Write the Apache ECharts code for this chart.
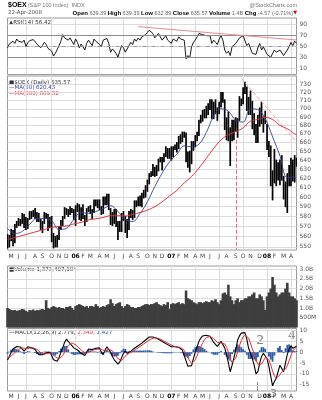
<!DOCTYPE html>
<html>
<head>
<meta charset="utf-8">
<script src="https://cdn.jsdelivr.net/npm/echarts@6/dist/echarts.min.js"></script>
<style>
html,body{margin:0;padding:0;background:#fff}
#chart{width:322px;height:400px}
</style>
</head>
<body>
<div id="chart"></div>
<script>
// Weekly bars for $OEX, week starting 2005-04-18 through week of 2008-04-21
const FIRST_WEEK = [2005, 3, 18];
const WEEK_COUNT = 158;

// Weekly price range (low / high)
const priceLow = [
  549,550,556,551,554,569,571,571,573,569,567,568,577,578,580,578,575,575,567,564,573,578,566,569,555,549,550,550,557,567,571,578,582,580,582,584,577,
  571,585,577,576,578,571,575,585,583,578,584,591,589,587,582,583,592,592,587,572,571,573,570,557,565,565,576,564,559,567,579,577,579,590,591,591,590,599,600,606,614,622,623,622,623,628,638,629,638,644,642,642,
  640,644,652,649,653,659,661,666,638,632,627,636,651,655,662,668,683,685,689,689,693,699,688,688,694,686,694,702,708,675,663,662,634,662,663,673,666,686,704,706,719,698,693,693,676,669,660,660,679,682,672,682,
  652,644,612,597,615,612,618,613,618,598,590,584,612,612,617,616,633
];
const priceHigh = [
  562,561,567,566,572,575,578,577,583,582,579,578,585,585,586,588,584,583,577,575,584,583,582,579,580,563,560,561,570,576,580,589,588,587,590,588,587,
  591,593,592,589,592,581,588,590,591,587,597,597,597,597,590,600,600,603,603,588,584,587,587,575,575,583,585,580,577,585,587,586,596,596,600,601,604,607,612,618,625,627,635,632,634,641,643,643,647,655,653,653,
  655,655,657,660,667,669,672,672,671,649,650,661,661,668,672,686,692,698,699,703,706,711,711,708,711,701,708,720,720,711,689,696,677,686,686,689,688,715,712,726,733,727,714,722,709,694,681,692,701,708,690,697,
  681,661,656,628,652,640,637,640,645,622,616,625,634,642,640,645,642
];

// Moving averages, sampled every fourth week
const maWeeks = [0,4,8,12,16,20,24,28,32,36,40,44,48,52,56,60,64,68,72,76,80,84,88,92,96,100,104,108,112,116,120,124,128,132,136,140,144,148,152,156,157];
const ma50 = [568,563,565,572,578,578,575.5,567,568,577,584,583,585,588,591,585,577,575,583,595,611,625.5,638,646.5,656,655,658,671.5,691,700,697,686,684,700,699,688,666.5,645,621,621,620.43];
const ma200 = [557,559,561,563,565,567,569,570,570.5,572.5,574,576.5,577.6,579,580.7,580.7,580.5,582,584,586.5,590,595,601,607,615,622,631,642,653,663,669,672.6,677,685,687,689.5,687,680,676,670,669.32];

// RSI(14)
const rsi = [
  48,55,52,60,56, 64,60,63,58,62, 50,57,61,58,63, 59,55,58,48,52, 58,54,47,50,42, 33,38,35,52,60,
  72,66,69,62,66, 60,54,64,58,48, 55,50,44,56,62, 57,52,64,60,58, 54,50,62,60,65, 56,40,46,44,38,
  31,42,52,48,40, 38,52,58,54,64, 60,66,62,68,65, 72,76,80,78,74, 66,70,74,68,62, 66,70,62,60,56,
  64,66,60,68,64, 66,62,28,34,30, 50,58,62,68,74, 76,72,74,70,73, 70,56,62,58,54, 64,70,62,44,38,
  42,34,50,52,56, 54,66,68,70,72, 52,56,58,38,40, 36,48,56,44,50, 52,36,34,31,29, 44,40,42,44,42,
  34,36,44,50,58, 52,60,56.42
];

// Volume, billions of shares (daily average per week)
const volume = [
  1.0,0.95,0.9,0.88,0.9,0.85,0.88,0.9,0.95,0.92, 0.85,0.8,0.9,0.88,0.92,0.85,0.9,0.88,0.92,0.95,
  0.9,1.4,1.0,0.95,1.05,1.1,1.05,1.0,1.05,1.0, 1.0,0.95,1.05,1.05,1.1,1.0,0.9,
  1.1,1.15,1.2,1.15,1.1,1.05,1.1,1.0,1.1,1.1, 1.05,1.2,1.1,1.0,1.05,1.1,1.05,1.15,1.2,1.45,
  1.25,1.1,1.2,1.25,1.3,1.1,1.0,1.1,1.2,1.15, 1.05,1.05,1.0,1.0,1.05,1.05,1.1,1.15,1.2,1.2,
  1.15,1.2,1.2,1.25,1.3,1.2,1.15,1.1,1.2,1.15, 1.3,0.95,
  1.2,1.25,1.2,1.25,1.3,1.2,1.25,1.2,1.9,1.5, 1.45,1.4,1.3,1.25,1.2,1.3,1.3,1.25,1.3,1.35,
  1.3,1.3,1.4,1.35,1.45,1.3,1.2,1.4,1.75,1.8, 1.7,2.2,1.6,1.4,1.2,1.4,1.5,1.3,1.4,1.4,
  1.5,1.5,1.6,1.6,1.7,1.8,1.5,1.5,1.7,1.6, 1.4,0.9,
  1.6,1.8,2.0,2.6,2.2,1.8,1.6,1.7,1.8,1.8, 2.0,2.3,1.8,1.6,1.6,1.5,1.4
];

// MACD(12,26,9): line, signal, histogram
const macd = [
  -3.6,-2,0,1.5,2.2,2.6,2.8,2.4,1.5,0.5, 1,2.5,2.4,2.0,1.8,1.2,0,-1.2,-2,-1.2,
  -0.5,-0.3,0,0,-1.5,-3.5,-4.4,-4.2,-2.5,0, 2,4.5,6,5,4,3,2,1.5,1,0.3,
  -0.5,-1.2,-1.5,0,1.5,1.5,1.2,1.5,1.8,1, 2,0,-1,1,2.5,2,0,-2,-3.5,-4.5,
  -5.5,-4.5,-2.5,-0.5,0.5,-0.5,0,0.5,1.2,1.8, 2.5,3,3.8,4.2,5,5.6,6.3,7,7.2,7,
  6.6,6.4,6,5.5,5,4.5,4,3.5,3,2.5, 2.6,2.5,2.3,2.2,1.8,1,-1.5,-4,-6.5,-6.7,
  -6.2,-3,0,2.5,5,6.5,7.5,7.9,7.8,7.5, 7.3,6,4.5,3.6,2.7,3.5,5,4.5,2,-1,
  -5,-9,-6,-2.6,1,5.6,7.5,8.8,9.2,9, 6,1.8,-0.5,-3,-6,-10,-9,-5,-2,-0.5,
  0,-3,-6.5,-11,-15.5,-13.5,-12,-9,-6,-7.5, -9,-5,-1,1.5,3,1.8,2.3,2.779
];
const signal = [
  -2.5,-2.4,-1.8,-1.0,-0.2,0.6,1.3,1.8,2.0,1.8, 1.6,1.7,1.9,2.0,2.0,1.8,1.3,0.6,-0.2,-0.7,
  -0.9,-0.8,-0.5,-0.3,-0.5,-1.2,-2.1,-3.0,-3.2,-2.6, -1.5,0.0,1.6,3.0,3.9,4.3,4.0,3.4,2.6,1.8,
  1.0,0.3,-0.3,-0.5,-0.1,0.4,0.8,1.1,1.4,1.4, 1.5,1.3,0.8,0.6,1.0,1.4,1.3,0.6,-0.5,-1.8,
  -3.0,-3.8,-3.8,-3.0,-1.8,-1.0,-0.5,-0.1,0.3,0.8, 1.4,2.0,2.6,3.2,3.8,4.4,5.0,5.6,6.1,6.5,
  6.6,6.6,6.4,6.0,5.6,5.2,4.7,4.2,3.7,3.2, 2.9,2.7,2.5,2.4,2.2,1.8,0.9,-0.7,-2.5,-4.0,
  -5.2,-5.0,-3.6,-1.6,0.5,2.6,4.3,5.7,6.7,7.2, 7.3,7.0,6.3,5.4,4.5,4.1,4.3,4.5,3.8,2.3,
  0.0,-3.0,-4.8,-4.5,-2.7,0.0,3.0,5.3,7.0,8.0, 7.9,6.5,4.2,1.6,-0.8,-3.5,-5.5,-6.2,-5.5,-4.0,
  -2.5,-2.5,-3.5,-5.8,-8.7,-11.0,-12.0,-12.0,-10.5,-9.0, -8.4,-7.8,-6.2,-4.0,-1.5,0.5,1.6,2.34
];
const histogram = [
  -0.7,0.3,1.2,1.6,1.6,1.3,1.0,0.4,-0.3,-0.8, -0.4,0.5,0.3,0,-0.1,-0.4,-0.8,-1.2,-1.2,-0.3,
  0.3,0.3,0.3,0.2,-0.7,-1.5,-1.5,-0.8,0.5,1.7, 2.3,2.9,2.9,1.3,0.1,-0.8,-1.3,-1.2,-1.0,-1.0,
  -1.0,-1.0,-0.8,0.3,1.0,0.7,0.3,0.3,0.3,-0.3, 0.3,-0.8,-1.2,0.3,1.0,0.4,-0.8,-1.7,-2.0,-1.8,
  -1.6,-0.5,0.8,1.6,1.5,0.3,0.3,0.4,0.6,0.7, 0.7,0.7,0.8,0.7,0.8,0.8,0.8,0.9,0.7,0.3,
  0,-0.1,-0.3,-0.3,-0.4,-0.5,-0.5,-0.5,-0.5,-0.5, -0.2,-0.1,-0.1,-0.1,-0.3,-0.5,-1.6,-2.1,-2.6,-1.8,
  -0.7,1.3,2.3,2.7,2.9,2.5,2.1,1.4,0.7,0.2, 0,-0.7,-1.2,-1.2,-1.2,-0.4,0.5,0,-1.2,-2.1,
  -3.3,-3.9,-0.8,1.2,2.4,3.6,2.9,2.3,1.4,0.7, -1.2,-3.1,-3.1,-3.0,-3.4,-4.2,-2.3,0.8,2.3,2.3,
  1.6,-0.3,-2.0,-3.4,-4.4,-1.6,0,2.0,2.9,1.0, -0.4,1.8,3.4,3.6,2.9,0.8,0.5,0.44
];

// Axis tick values
const rsiTicks = [10, 30, 50, 70, 90];
const priceTicks = [550,560,570,580,590,600,610,620,630,640,650,660,670,680,690,700,710,720,730];
const volumeTicks = [0.5, 1.0, 1.5, 2.0, 2.5, 3.0];
const macdTicks = [-15, -10, -5, 0, 5, 10];

// ---- calendar helpers: one category per trading week ----
const DAY = 86400000;
const startMs = Date.UTC(FIRST_WEEK[0], FIRST_WEEK[1], FIRST_WEEK[2]);
const weeks = [];
const monthStart = [];   // label text for weeks holding a month's first session, else null
const quarterStart = [];
const LETTERS = 'JFMAMJJASOND';
let prevMonth = null;
for (let i = 0; i < WEEK_COUNT; i++) {
  const d = new Date(startMs + i * 7 * DAY);
  weeks.push(d.toISOString().slice(0, 10));
  const fri = new Date(d.getTime() + 4 * DAY);
  const m = fri.getUTCMonth();
  if (prevMonth !== null && m !== prevMonth) {
    monthStart.push(m === 0 ? '{y|' + String(fri.getUTCFullYear()).slice(2) + '}' : LETTERS[m]);
    quarterStart.push(m % 3 === 0);
  } else {
    monthStart.push(null);
    quarterStart.push(false);
  }
  prevMonth = m;
}

const FONT = 'DejaVu Sans';
const NARROW = 'Liberation Sans';
const GRID_LEFT = 7.5, GRID_RIGHT = 25.5;
const gridLine = '#dcdcdc';

function xAxisFor(gridIndex, withLabels) {
  return {
    type: 'category', gridIndex, data: weeks, boundaryGap: false,
    axisLine: { show: false }, axisTick: { show: false },
    axisLabel: {
      show: !!withLabels,
      interval: (idx) => monthStart[idx] !== null,
      formatter: (v, idx) => monthStart[idx] || '',
      fontFamily: FONT, fontSize: 6, color: '#444', margin: withLabels === 'tight' ? 2 : 3,
      rich: { y: { fontFamily: FONT, fontSize: 6, fontWeight: 'bold', color: '#000' } }
    },
    splitLine: { show: true, interval: (idx) => quarterStart[idx], lineStyle: { color: gridLine, width: 1 } }
  };
}

function yAxisFor(gridIndex, cfg) {
  return Object.assign({
    gridIndex, position: 'right',
    axisLine: { show: false },
    axisTick: { show: false, customValues: cfg.ticks },
    axisLabel: { customValues: cfg.ticks, fontFamily: FONT, fontSize: 6, color: '#555', margin: 3, formatter: cfg.fmt },
    splitLine: { show: true, lineStyle: { color: gridLine, width: 1 } }
  }, cfg.axis);
}

// small text helper for the header, legends and pencil notes
function txt(pos, text, size, color, extra) {
  return Object.assign({ type: 'text', style: Object.assign({
    text, fontFamily: FONT, fontSize: size, fill: color }, extra || {}) }, pos);
}

const chart = echarts.init(document.getElementById('chart'), null, { renderer: 'canvas' });

const gridBox = { left: GRID_LEFT, right: GRID_RIGHT, show: true, borderColor: '#9a9a9a', borderWidth: 1, backgroundColor: '#fff' };

const option = {
  animation: false,
  backgroundColor: '#fff',
  grid: [
    Object.assign({ top: 18, height: 56.5 }, gridBox),
    Object.assign({ top: 76, height: 174 }, gridBox),
    Object.assign({ top: 266, height: 61.4 }, gridBox),
    Object.assign({ top: 328.5, height: 62.5 }, gridBox)
  ],
  xAxis: [xAxisFor(0, false), xAxisFor(1, true), xAxisFor(2, false), xAxisFor(3, 'tight')],
  yAxis: [
    yAxisFor(0, { ticks: rsiTicks, axis: { type: 'value', min: -0.5, max: 102.2 } }),
    yAxisFor(1, { ticks: priceTicks, axis: { type: 'log', logBase: 10, min: 547.0, max: 741.2 } }),
    yAxisFor(2, { ticks: volumeTicks, fmt: (v) => v < 1 ? Math.round(v * 1000) + 'M' : v.toFixed(1) + 'B',
                  axis: { type: 'value', min: 0, max: 3.165 } }),
    yAxisFor(3, { ticks: macdTicks, axis: { type: 'value', min: -17.88, max: 10.92 } })
  ],
  series: [
    {
      name: 'RSI', type: 'line', xAxisIndex: 0, yAxisIndex: 0, data: rsi,
      symbol: 'none', lineStyle: { color: '#000', width: 0.9 },
      markLine: {
        silent: true, symbol: 'none', label: { show: false },
        data: [
          { yAxis: 70, lineStyle: { color: '#8c8c8c', width: 1, type: 'solid' } },
          { yAxis: 30, lineStyle: { color: '#8c8c8c', width: 1, type: 'solid' } },
          { yAxis: 50, lineStyle: { color: '#9a9a9a', width: 1, type: [4, 2, 1, 2] } },
          [ { coord: [71, 86.4] }, { coord: [157, 62.2] } ]
        ],
        lineStyle: { color: '#f08a8a', width: 1, type: 'solid' }
      }
    },
    {
      name: 'Price', type: 'custom', xAxisIndex: 1, yAxisIndex: 1, clip: true,
      data: priceLow.map((lo, i) => [i, lo, priceHigh[i]]),
      encode: { x: 0, y: [1, 2] },
      renderItem: function (params, api) {
        const i = api.value(0);
        const a = api.coord([i, api.value(1)]);
        const b = api.coord([i, api.value(2)]);
        return { type: 'line', shape: { x1: a[0], y1: a[1] + 0.5, x2: b[0], y2: b[1] - 0.5 },
                 style: { stroke: '#000', lineWidth: 1.7 } };
      },
      markLine: {
        silent: true, symbol: 'none', label: { show: false },
        data: [
          [ { coord: [127, 738.2], lineStyle: { color: '#f4a0a0', width: 1 } }, { coord: [157, 660.9] } ],
          [ { coord: [124, 663], lineStyle: { color: '#e87070', width: 1 } }, { coord: [124, 547] } ]
        ]
      }
    },
    {
      name: 'MA50', type: 'line', xAxisIndex: 1, yAxisIndex: 1, smooth: 0.4,
      data: maWeeks.map((w, k) => [w, ma50[k]]), symbol: 'none',
      lineStyle: { color: '#34409a', width: 0.9 }
    },
    {
      name: 'MA200', type: 'line', xAxisIndex: 1, yAxisIndex: 1, smooth: 0.4,
      data: maWeeks.map((w, k) => [w, ma200[k]]), symbol: 'none',
      lineStyle: { color: '#e0303a', width: 1 }
    },
    {
      name: 'Volume', type: 'bar', xAxisIndex: 2, yAxisIndex: 2, data: volume,
      barWidth: 2.6, itemStyle: { color: '#3e3e3e' }
    },
    {
      name: 'Hist', type: 'bar', xAxisIndex: 3, yAxisIndex: 3, data: histogram,
      barWidth: 1.8, itemStyle: { color: '#2a5aa8' }
    },
    {
      name: 'MACD', type: 'line', xAxisIndex: 3, yAxisIndex: 3, data: macd,
      symbol: 'none', lineStyle: { color: '#000', width: 1.1 }
    },
    {
      name: 'Signal', type: 'line', xAxisIndex: 3, yAxisIndex: 3, data: signal,
      symbol: 'none', lineStyle: { color: '#e0303a', width: 1 }
    }
  ],
  graphic: [
    txt({ left: 8, top: 1.5 }, '$OEX', 7, '#000', { fontFamily: NARROW, fontWeight: 'bold' }),
    txt({ left: 28, top: 2.5 }, '(S&P 100 Index)  INDX', 5.5, '#777', { fontFamily: NARROW }),
    txt({ right: 25, top: 2.5 }, '@StockCharts.com', 5.5, '#777', { fontFamily: NARROW }),
    txt({ left: 8, top: 10 }, '22-Apr-2008', 5.5, '#555'),
    txt({ right: 29, top: 10 },
        '{b|Open} {n|639.39} {b|High} {n|639.39} {b|Low} {n|632.89} {b|Close} {n|635.57} {b|Volume} {n|1.4B} {b|Chg} {n|-4.57 (-0.71%)}',
        5.5, '#666', { fontFamily: NARROW, rich: {
          b: { fontFamily: NARROW, fontSize: 6, fontWeight: 'bold', fill: '#000' },
          n: { fontFamily: NARROW, fontSize: 5.5, fill: '#666' } } }),
    txt({ right: 25, top: 10.5 }, '▼', 5, '#d00'),
    txt({ left: 9, top: 19.5 }, '▲RSI(14) 56.42', 5.5, '#333'),
    txt({ left: 9, top: 79.5 }, '■$OEX (Daily) 635.57', 5.5, '#333'),
    txt({ left: 9, top: 85 }, '—MA(50) 620.43', 5.5, '#34409a'),
    txt({ left: 9, top: 90.5 }, '—MA(200) 669.32', 5.5, '#e0303a'),
    txt({ left: 9, top: 267 }, '■Volume 1,373,407,104', 5.5, '#333'),
    txt({ left: 9, top: 329.5 }, '{k|—MACD(12,26,9) 2.779,} {r|2.340,} {bl|1.427}', 5.5, '#333', { rich: {
          k: { fontFamily: FONT, fontSize: 5.5, fill: '#333' },
          r: { fontFamily: FONT, fontSize: 5.5, fill: '#e0303a' },
          bl: { fontFamily: FONT, fontSize: 5.5, fill: '#2a5aa8' } } }),
    txt({ left: 256, top: 334 }, '2', 13, '#8a8a8a'),
    txt({ left: 288, top: 330 }, '4', 12, '#8a8a8a'),
    txt({ left: 270, top: 389 }, '3', 11, '#8a8a8a'),
    { type: 'line', shape: { x1: 257.5, y1: 382, x2: 257.5, y2: 391 }, style: { stroke: '#8a8a8a', lineWidth: 1 } }
  ]
};

chart.setOption(option);
</script>
</body>
</html>
